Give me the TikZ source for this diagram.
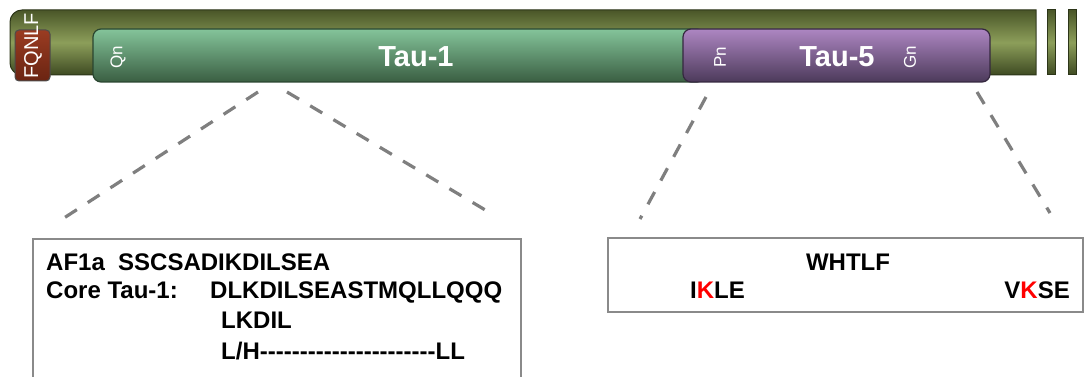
\documentclass[tikz,border=0pt]{standalone}
\usepackage{fontspec}
\setmainfont{Liberation Sans}
\definecolor{olivetop}{HTML}{4A5628}
\definecolor{olivemid}{HTML}{8C9E5A}
\definecolor{olivebot}{HTML}{3E4A22}
\definecolor{oliveline}{HTML}{2C3518}
\definecolor{greentop}{HTML}{84C49A}
\definecolor{greenbot}{HTML}{3A5E42}
\definecolor{greenline}{HTML}{2A4530}
\definecolor{purptop}{HTML}{AD86C2}
\definecolor{purpbot}{HTML}{4C3A5A}
\definecolor{purpline}{HTML}{35283F}
\definecolor{redtop}{HTML}{9A3C22}
\definecolor{redbot}{HTML}{6A2412}
\definecolor{dashgray}{HTML}{7F7F7F}
\definecolor{boxgray}{HTML}{8A8A8A}
\definecolor{kred}{HTML}{FF0000}
\newcommand\hyph{-\kern0pt}
\tikzset{
  olivebar/.style={top color=olivetop, bottom color=olivebot, middle color=olivemid, draw=oliveline, line width=1pt},
  domgreen/.style={top color=greentop, bottom color=greenbot, draw=greenline, line width=1.2pt, rounded corners=8pt},
  dompurp/.style={top color=purptop, bottom color=purpbot, draw=purpline, line width=1.2pt, rounded corners=8pt},
  domred/.style={top color=redtop, bottom color=redbot, draw=black!70, line width=1pt, rounded corners=4pt},
  zoomline/.style={draw=dashgray, line width=3.2pt, dash pattern=on 14pt off 13pt},
  seqbox/.style={draw=boxgray, line width=2pt, fill=white},
  domlabel/.style={text=white, font=\bfseries\fontsize{29}{30}\selectfont, inner sep=0pt},
  smalllabel/.style={text=white, font=\fontsize{17}{18}\selectfont, rotate=90, inner sep=0pt},
  seqtext/.style={text=black, font=\bfseries\fontsize{24}{26}\selectfont, inner sep=0pt, anchor=base west},
}
\begin{document}
\begin{tikzpicture}[x=1pt,y=-1pt]
\useasboundingbox (0,0) rectangle (1086,377);
% main olive bar
\shade[olivebar] (1036,75) [rounded corners=12pt] -- (10,75) -- (10,10) [sharp corners] -- (1036,10) -- cycle;
% break stripes
\shade[olivebar] (1047,10) rectangle (1055,75);
\shade[olivebar] (1068,10) rectangle (1076,75);
% FQNLF domain
\shade[domred] (15,30) rectangle (50,81);
\node[smalllabel, font=\fontsize{20}{21}\selectfont] (fqnlf) at (33,46) {FQNLF};
% Tau-1
\shade[domgreen] (93,29) rectangle (705,82);
\node[domlabel] (tau1) at (416,57) {Tau-1};
\node[smalllabel] (qn) at (118,57) {Qn};
% Tau-5
\shade[dompurp] (683,29) rectangle (990,82);
\node[domlabel] (tau5) at (837,57) {Tau-5};
\node[smalllabel] (pn) at (720,57) {Pn};
\node[smalllabel] (gn) at (910,57) {Gn};
% zoom lines
\coordinate (a1) at (258,92);
\coordinate (a2) at (64,218);
\coordinate (b1) at (287,92);
\coordinate (b2) at (492,214);
\coordinate (c1) at (706,97);
\coordinate (c2) at (640,219);
\coordinate (d1) at (977,92);
\coordinate (d2) at (1050,213);
\draw[zoomline] (a1) -- (a2);
\draw[zoomline] (b1) -- (b2);
\draw[zoomline] (c1) -- (c2);
\draw[zoomline] (d1) -- (d2);
% left sequence box
\begin{scope}
\clip (0,0) rectangle (1086,377);
\draw[seqbox] (33,239) rectangle (521,400);
\end{scope}
\node[seqtext] (af1a) at (46,270) {AF1a\ \ SSCSADIKDILSEA};
\node[seqtext] (core) at (46,298) {Core Tau-1:};
\node[seqtext] (coreseq) at (210,298) {DLKDILSEASTMQLLQQQ};
\node[seqtext] (lkdil) at (221,328) {LKDIL};
\node[seqtext] (lh) at (221,359) {L/H\hyph\hyph\hyph\hyph\hyph\hyph\hyph\hyph\hyph\hyph\hyph\hyph\hyph\hyph\hyph\hyph\hyph\hyph\hyph\hyph\hyph\hyph LL};
% right sequence box
\draw[seqbox] (608,238) rectangle (1083,312);
\node[seqtext, anchor=base] (whtlf) at (848,270) {WHTLF};
\node[seqtext] (ikle) at (690,298) {I\textcolor{kred}{K}LE};
\node[seqtext, anchor=base east] (vkse) at (1070,298) {V\textcolor{kred}{K}SE};
\end{tikzpicture}
\end{document}
